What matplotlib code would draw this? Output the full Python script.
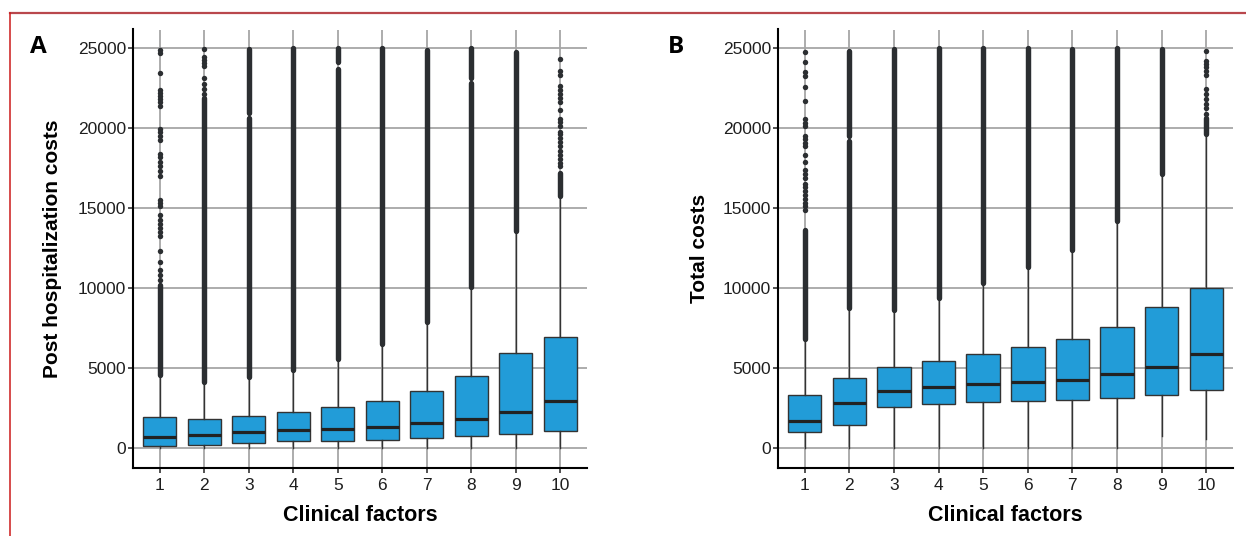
import matplotlib
matplotlib.use("Agg")
import matplotlib.pyplot as plt
from matplotlib.lines import Line2D

plt.rcParams['font.family'] = ['Liberation Sans', 'DejaVu Sans']

factors = [1, 2, 3, 4, 5, 6, 7, 8, 9, 10]
yticks = [0, 5000, 10000, 15000, 20000, 25000]

# Panel A: post hospitalization costs
A_med = [710, 810, 980, 1120, 1210, 1310, 1540, 1790, 2250, 2920]
A_q1 = [125, 170, 290, 420, 460, 520, 600, 770, 880, 1080]
A_q3 = [1920, 1790, 2000, 2250, 2540, 2940, 3560, 4500, 5960, 6960]
A_whislo = [0, 0, 0, 0, 0, 0, 0, 0, 0, 0]
A_whishi = [4500, 4100, 4350, 4800, 5480, 6430, 7830, 9980, 13500, 15650]
# dense runs of outliers (low, high) per factor
A_dense = [
    [(4560, 10200)],
    [(4150, 21900)],
    [(4420, 20650), (20950, 24950)],
    [(4880, 25000)],
    [(5550, 23700), (24150, 24980)],
    [(6500, 24980)],
    [(7900, 24900)],
    [(10050, 22800), (23150, 25000)],
    [(13580, 24750)],
    [(15750, 17200)],
]
# isolated outliers per factor
A_sparse = [
    [10500, 10800, 11100, 11650, 12300, 13250, 13500, 13750, 14000,
     14250, 14550, 15100, 15300, 15500, 17000, 17300, 17600, 17900, 18200,
     18400, 19250, 19500, 19750, 19950, 21350, 21600, 21800, 22000, 22200,
     22400, 23450, 24700, 24850],
    [22150, 22450, 22750, 23150, 23850, 24050, 24250, 24450, 24950],
    [], [], [], [], [], [], [],
    [17600, 17800, 18050, 18300, 18550, 18850, 19100, 19350, 19600, 19750,
     20150, 20350, 20550, 21100, 21600, 21900, 22150, 22350, 22600, 23300,
     23550, 24300],
]

# Panel B: total costs
B_med = [1710, 2800, 3560, 3800, 4010, 4150, 4270, 4600, 5030, 5900]
B_q1 = [1020, 1440, 2540, 2750, 2870, 2910, 3020, 3120, 3340, 3620]
B_q3 = [3340, 4400, 5030, 5450, 5870, 6310, 6800, 7590, 8790, 10000]
B_whislo = [0, 0, 0, 0, 0, 0, 0, 0, 780, 560]
B_whishi = [6750, 8700, 8600, 9330, 10250, 11300, 12300, 14100, 17050, 19500]
B_dense = [
    [(6800, 13640)],
    [(8750, 19200), (19500, 24830)],
    [(8650, 24950)],
    [(9380, 25000)],
    [(10300, 25000)],
    [(11340, 24980)],
    [(12350, 24950)],
    [(14170, 25000)],
    [(17100, 24950)],
    [(19600, 20600)],
]
B_sparse = [
    [14900, 15100, 15300, 15530, 15800, 16050, 16300, 16500, 16850, 17100,
     17350, 17900, 18300, 18860, 19070, 19280, 19490, 20120, 20330, 20540,
     21700, 22560, 23270, 23480, 24100, 24750],
    [], [], [], [], [], [], [], [],
    [20850, 21250, 21500, 21800, 22100, 22450, 23300, 23550, 23800, 24000,
     24200, 24780],
]

BOX_COLOR = '#229cd8'
DARK = '#2b2e31'

W, H = 1246, 536
fig = plt.figure(figsize=(W / 100, H / 100), dpi=100)


def panel(rect, med, q1, q3, wlo, whi, dense, sparse, ylabel, letter, letter_x, labelpad):
    ax = fig.add_axes(rect)
    stats = []
    for i in range(len(factors)):
        stats.append(dict(med=med[i], q1=q1[i], q3=q3[i], whislo=wlo[i], whishi=whi[i], fliers=[]))
    ax.bxp(stats, positions=factors, widths=0.75, patch_artist=True, showfliers=False,
           showcaps=False,
           boxprops=dict(facecolor=BOX_COLOR, edgecolor='#333333', linewidth=1.0),
           medianprops=dict(color='#222222', linewidth=2.3),
           whiskerprops=dict(color='#333333', linewidth=1.0),
           zorder=3)
    for x, runs in zip(factors, dense):
        for lo, hi in runs:
            ax.vlines(x, lo, hi, colors=DARK, linewidth=3.9, capstyle='round', zorder=4)
    for x, vals in zip(factors, sparse):
        if vals:
            ax.plot([x] * len(vals), vals, 'o', color=DARK, markersize=3.9,
                    markeredgewidth=0, zorder=4)
    ax.set_xlim(0.4, 10.6)
    ax.set_ylim(-1250, 26150)
    ax.set_xticks(factors)
    ax.set_xticklabels([str(f) for f in factors])
    ax.set_yticks(yticks)
    ax.set_yticklabels([str(v) for v in yticks])
    ax.grid(True, color='#a6a6a6', linewidth=1.3)
    ax.set_axisbelow(True)
    for s in ['top', 'right']:
        ax.spines[s].set_visible(False)
    for s in ['left', 'bottom']:
        ax.spines[s].set_linewidth(1.5)
        ax.spines[s].set_color('black')
    ax.tick_params(axis='both', length=3.5, width=1.1, color='#222222',
                   labelsize=12.5, labelcolor='#1e1e1e')
    ax.tick_params(axis='y', pad=1.5)
    ax.tick_params(axis='x', pad=4)
    ax.set_xlabel('Clinical factors', fontsize=15.5, fontweight='bold', labelpad=8)
    ax.set_ylabel(ylabel, fontsize=15, fontweight='bold', labelpad=labelpad)
    fig.text(letter_x / W, 1 - 47 / H, letter, fontsize=17.5, fontweight='bold',
             family=['Open Sans', 'DejaVu Sans'], ha='center', va='center')
    return ax


panel([133 / W, 1 - 468 / H, (587 - 133) / W, (468 - 29.5) / H],
      A_med, A_q1, A_q3, A_whislo, A_whishi, A_dense, A_sparse,
      'Post hospitalization costs', 'A', 38, 11)
panel([778 / W, 1 - 468 / H, (1233 - 778) / W, (468 - 29.5) / H],
      B_med, B_q1, B_q3, B_whislo, B_whishi, B_dense, B_sparse,
      'Total costs', 'B', 676, 10)

# red frame lines
fig.add_artist(Line2D([10 / W, 1.0], [1 - 13 / H, 1 - 13 / H], color='#b9474c', linewidth=1.6))
fig.add_artist(Line2D([10 / W, 10 / W], [0, 1 - 13 / H], color='#cc1a1a', linewidth=1.1))

fig.savefig('out.png', dpi=100)
